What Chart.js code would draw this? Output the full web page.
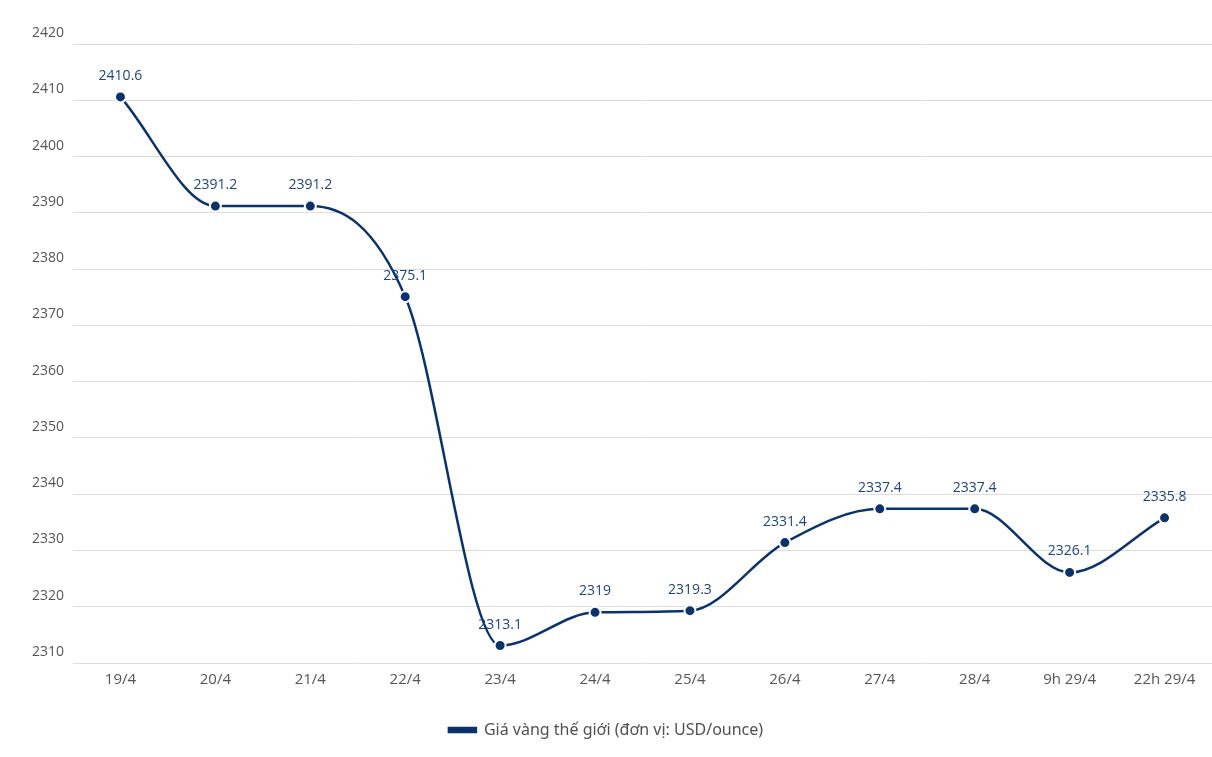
<!DOCTYPE html>
<html>
<head>
<meta charset="utf-8">
<script src="https://cdn.jsdelivr.net/npm/chart.js@4"></script>
<style>
  html,body{margin:0;padding:0;background:#fff;overflow:hidden;}
  #wrap{width:1212px;height:757px;position:relative;}
</style>
</head>
<body>
<div id="wrap"><canvas id="c"></canvas></div>
<script>
// Giá vàng thế giới
const labels = ['19/4','20/4','21/4','22/4','23/4','24/4','25/4','26/4','27/4','28/4','9h 29/4','22h 29/4'];
const prices = [2410.6, 2391.2, 2391.2, 2375.1, 2313.1, 2319, 2319.3, 2331.4, 2337.4, 2337.4, 2326.1, 2335.8];
const seriesName = 'Giá vàng thế giới (đơn vị: USD/ounce)';
const navy = '#0a336e';

// value labels above points
const valueLabels = {
  id:'valueLabels',
  afterDatasetsDraw(chart){
    const ctx = chart.ctx;
    const meta = chart.getDatasetMeta(0);
    ctx.save();
    ctx.font = '14px "Open Sans","Noto Sans",sans-serif';
    ctx.fillStyle = '#1c4580';
    ctx.textAlign = 'center';
    ctx.textBaseline = 'middle';
    meta.data.forEach((pt,i) => ctx.fillText(String(prices[i]), pt.x, pt.y - 21));
    ctx.restore();
  }
};

new Chart(document.getElementById('c'), {
  type:'line',
  data:{labels, datasets:[{
    label:seriesName, data:prices,
    borderColor:navy, backgroundColor:navy, borderWidth:2.5,
    cubicInterpolationMode:'monotone',
    pointRadius:5.5, pointHoverRadius:5.5,
    pointBackgroundColor:navy, pointBorderColor:'#fff', pointBorderWidth:2
  }]},
  options:{
    responsive:true, maintainAspectRatio:false, animation:false,
    layout:{autoPadding:false, padding:{top:44, right:0, left:0, bottom:9}},
    plugins:{
      legend:{position:'bottom',
        labels:{boxWidth:27, boxHeight:4, padding:26, color:'#505050',
          font:{size:16, family:'"Noto Sans","Open Sans",sans-serif'}}},
      tooltip:{enabled:false}
    },
    scales:{
      x:{offset:true,
        afterFit(s){ s.height += 7; },
        grid:{display:false}, border:{display:false},
        ticks:{color:'#555', padding:0, font:{size:15, family:'"Open Sans","Noto Sans",sans-serif'}}},
      y:{min:2310, max:2420,
        afterFit(s){ s.width = 73; },
        grid:{color:'#dcdcdc', drawTicks:false}, border:{display:false},
        ticks:{stepSize:10, color:'#555', padding:9, labelOffset:-11,
          callback:v => String(v),
          font:{size:14, family:'"Open Sans","Noto Sans",sans-serif'}}}
    }
  },
  plugins:[valueLabels]
});
</script>
</body>
</html>
